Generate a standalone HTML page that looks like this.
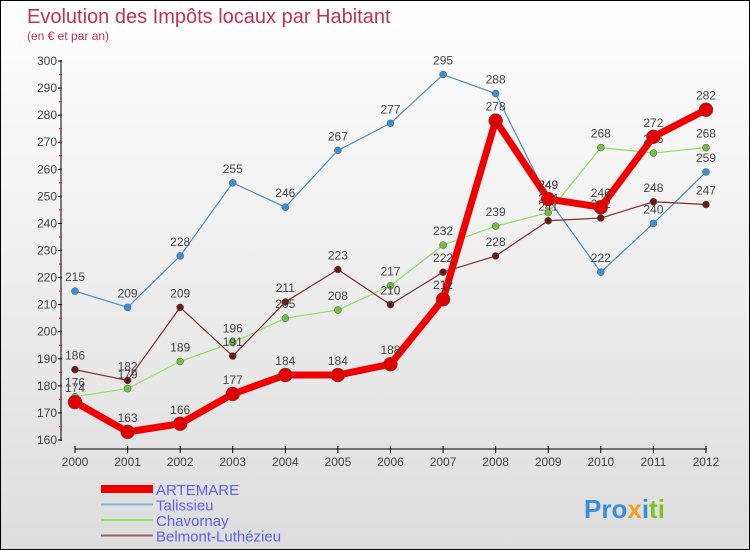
<!DOCTYPE html>
<html><head><meta charset="utf-8"><style>
body{margin:0}
#c{width:748px;height:548px;border:1px solid #000;background:linear-gradient(#fff,#ddd);position:relative;font-family:"Liberation Sans",sans-serif;overflow:hidden}
</style></head><body>
<div id="c">
<svg id="s" width="748" height="548" style="position:absolute;left:0;top:0">
<text x="26" y="22" font-size="20" fill="#c03060">Evolution des Impôts locaux par Habitant</text>
<text x="26" y="39" font-size="12" fill="#c03060">(en € et par an)</text>
<g id="axes"></g><g id="series"></g><g id="legend"></g>
<text x="583" y="517" font-size="26" font-weight="bold" fill="#3a8fd8">Pro<tspan fill="#f0a020">x</tspan><tspan fill="#3a8fd8">i</tspan><tspan fill="#80c020">ti</tspan></text>
</svg>
</div>
<script>
const years=["2000","2001","2002","2003","2004","2005","2006","2007","2008","2009","2010","2011","2012"];
const yTicks=[160,170,180,190,200,210,220,230,240,250,260,270,280,290,300];
const artemare=[174,163,166,177,184,184,188,212,278,249,246,272,282];
const talissieu=[215,209,228,255,246,267,277,295,288,249,222,240,259];
const chavornay=[176,179,189,196,205,208,217,232,239,244,268,266,268];
const belmont=[186,182,209,191,211,223,210,222,228,241,242,248,247];
const NS="http://www.w3.org/2000/svg";
const X=i=>74+i*52.58, Y=v=>439-(v-160)*2.707;
function el(t,a,p){const e=document.createElementNS(NS,t);for(const k in a)e.setAttribute(k,a[k]);p.appendChild(e);return e;}
const ax=document.getElementById('axes');
let l=el('line',{x1:60,y1:59,x2:60,y2:440,stroke:'#000'},ax);

l=el('line',{x1:74,y1:448,x2:706,y2:448,stroke:'#000'},ax);

yTicks.forEach(v=>{el('line',{x1:57,x2:61,y1:Y(v),y2:Y(v),stroke:'#000'},ax);
 if(v<300)el('line',{x1:58,x2:61,y1:Y(v+5),y2:Y(v+5),stroke:'#f00'},ax);
 const t=el('text',{x:56,y:Y(v)+4,'text-anchor':'end','font-size':12,fill:'#444'},ax);t.textContent=v;
 });
years.forEach((y,i)=>{el('line',{x1:X(i),x2:X(i),y1:445,y2:452,stroke:'#000'},ax);
 const t=el('text',{x:X(i),y:465,'text-anchor':'middle','font-size':12,fill:'#444'},ax);t.textContent=y;
 });
const sg=document.getElementById('series');
const defs=[["talissieu",talissieu,"#4a90c8",1.2,3.5,"#3a8fd8"],["chavornay",chavornay,"#90e060",1.2,3.5,"#70c040"],["belmont",belmont,"#7a3030",1.2,3.5,"#6a1818"],["artemare",artemare,"#f00000",7,7,"#e00000"]];
defs.forEach(([n,d,c,w,r,fc])=>{
 const p=el('polyline',{points:d.map((v,i)=>X(i)+','+Y(v)).join(' '),fill:'none',stroke:c,'stroke-width':w,'stroke-linejoin':'round'},sg);
 
 d.forEach((v,i)=>{const m=el('circle',{cx:X(i),cy:Y(v),r:r,fill:fc,stroke:'#555','stroke-width':0.5},sg);
  
  const t=el('text',{x:X(i),y:Y(v)-10,'text-anchor':'middle','font-size':12,fill:'#444'},sg);t.textContent=v;
  });
});
const lg=document.getElementById('legend');
[["ARTEMARE","#f00000",8,"artemare"],["Talissieu","#80b0d0",2,"talissieu"],["Chavornay","#90e060",2,"chavornay"],["Belmont-Luthézieu","#a06060",2,"belmont"]].forEach(([n,c,w,k],i)=>{
 const y=492+i*15.5;
 const ln=el('line',{x1:100,x2:152,y1:y-4,y2:y-4,stroke:c,'stroke-width':w},lg);
 
 const t=el('text',{x:155,y:y+2,'font-size':15,fill:'#6060f0'},lg);t.textContent=n;
 });
</script>
</body></html>
